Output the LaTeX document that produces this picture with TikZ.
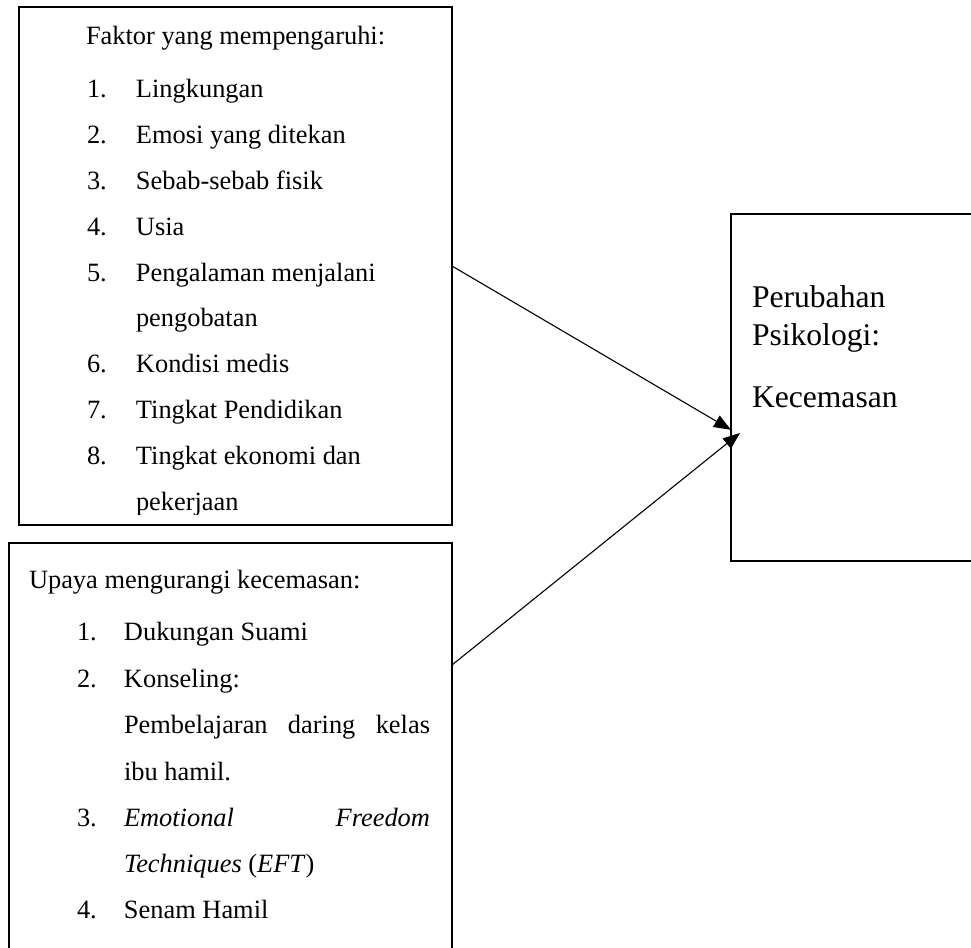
\documentclass[tikz,border=0pt]{standalone}
\usepackage{fontspec}
\setmainfont{Liberation Serif}
\usetikzlibrary{arrows.meta,calc}
\begin{document}
\begin{tikzpicture}[x=0.5pt,y=-0.5pt,
  txt/.style={anchor=base west, inner sep=0pt, outer sep=0pt, font=\fontsize{13.2pt}{15pt}\selectfont},
  bigtxt/.style={anchor=base west, inner sep=0pt, outer sep=0pt, font=\fontsize{15.8pt}{19pt}\selectfont},
  box/.style={draw, anchor=north west, inner sep=0pt, outer sep=0pt},
  conn/.style={line width=0.55pt, -{Triangle[length=8.5pt,width=6.5pt]}}]
\useasboundingbox (0,0) rectangle (971,948);
\begin{scope}
\clip (0,0) rectangle (971,948);
% boxes
\node[box, line width=0.75pt, minimum width=216.5pt, minimum height=259pt] (b1) at (19,7) {};
\node[box, line width=1pt, minimum width=221.5pt, minimum height=230pt] (b2) at (9,543) {};
\node[box, line width=1.2pt, minimum width=140pt, minimum height=173.5pt] (b3) at (731,214) {};
% box 1 text
\node[txt] (t0) at (86,44) {Faktor yang mempengaruhi:};
\node[txt] (f1) at (87,97) {\makebox[24.5pt][l]{1.}Lingkungan};
\node[txt] (f2) at (87,143) {\makebox[24.5pt][l]{2.}Emosi yang ditekan};
\node[txt] (f3) at (87,189) {\makebox[24.5pt][l]{3.}Sebab-sebab fisik};
\node[txt] (f4) at (87,235) {\makebox[24.5pt][l]{4.}Usia};
\node[txt] (f5) at (87,281) {\makebox[24.5pt][l]{5.}Pengalaman menjalani};
\node[txt] (f5b) at (136,326) {pengobatan};
\node[txt] (f6) at (87,372) {\makebox[24.5pt][l]{6.}Kondisi medis};
\node[txt] (f7) at (87,418) {\makebox[24.5pt][l]{7.}Tingkat Pendidikan};
\node[txt] (f8) at (87,464) {\makebox[24.5pt][l]{8.}Tingkat ekonomi dan};
\begin{scope}
\clip (0,0) rectangle (971,514);
\node[txt] (f8b) at (136,510) {pekerjaan};
\end{scope}
% box 2 text
\node[txt] (u0) at (29,588) {Upaya mengurangi kecemasan:};
\node[txt] (u1) at (77,640) {\makebox[23.5pt][l]{1.}Dukungan Suami};
\node[txt] (u2) at (77,687) {\makebox[23.5pt][l]{2.}Konseling:};
\node[txt] (u2b) at (124,733) {\hbox to 153pt{Pembelajaran\hfill daring\hfill kelas}};
\node[txt] (u2c) at (124,780) {ibu hamil.};
\node[txt] (u3) at (77,826) {\makebox[23.5pt][l]{3.}\hbox to 153pt{\textit{Emotional}\hfill\textit{Freedom}}};
\node[txt] (u3b) at (124,872) {\textit{Techniques} (\textit{EFT})};
\node[txt] (u4) at (77,918) {\makebox[23.5pt][l]{4.}Senam Hamil};
% box 3 text
\node[bigtxt] (p1) at (752,307) {Perubahan};
\node[bigtxt] (p2) at (752,345) {Psikologi:};
\node[bigtxt] (p3) at (752,407) {Kecemasan};
\end{scope}
% connectors
\draw[conn] (b1.east) -- ($(b3.north west)!0.622!(b3.south west)$);
\draw[conn] ($(b2.north east)+(0,122)$) -- ($(b3.north west)!0.631!(b3.south west)+(9,0)$);
\end{tikzpicture}
\end{document}
